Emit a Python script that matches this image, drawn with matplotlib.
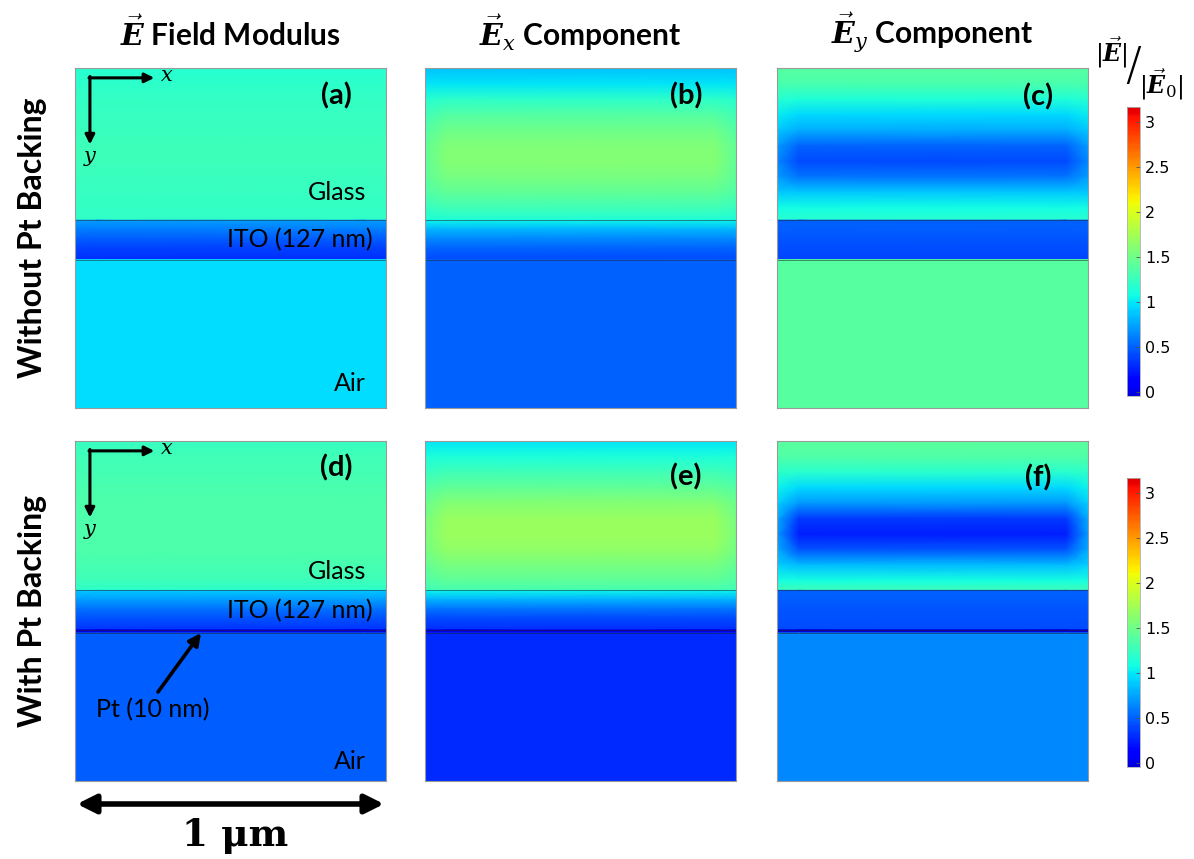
import numpy as np
import matplotlib.pyplot as plt
from matplotlib.colors import Normalize, LinearSegmentedColormap
from matplotlib.patches import FancyArrowPatch

plt.rcParams['mathtext.fontset'] = 'custom'
plt.rcParams['mathtext.bf'] = 'DejaVu Serif:italic:bold'
plt.rcParams['mathtext.it'] = 'DejaVu Serif:italic'
plt.rcParams['mathtext.rm'] = 'DejaVu Serif'

# geometry of the simulation cell (nm)
x_nodes = [0, 70, 930, 1000]
domain_height = 1095
glass_depth_row1 = [0, 50, 100, 150, 200, 250, 300, 350, 400, 450, 490]
glass_depth_row2 = [0, 50, 100, 150, 200, 250, 300, 350, 400, 450, 481]
ito_depth = [0, 30, 60, 90, 127]
pt_thickness = 10

# |E|/|E0|
a_glass_center = [1.17, 1.20, 1.23, 1.25, 1.26, 1.27, 1.27, 1.26, 1.25, 1.23, 1.22]
a_glass_edge = [1.17, 1.20, 1.23, 1.25, 1.26, 1.27, 1.27, 1.26, 1.25, 1.23, 1.22]
a_ito = [0.72, 0.60, 0.48, 0.38, 0.30]
a_air = 0.96

b_glass_center = [0.86, 1.00, 1.20, 1.38, 1.50, 1.58, 1.60, 1.55, 1.45, 1.30, 1.15]
b_glass_edge = [0.86, 1.00, 1.17, 1.30, 1.38, 1.43, 1.44, 1.42, 1.36, 1.25, 1.12]
b_ito = [1.04, 0.82, 0.64, 0.52, 0.42]
b_air = 0.51

c_glass_center = [1.39, 1.33, 1.15, 0.95, 0.78, 0.52, 0.42, 0.58, 0.90, 1.08, 1.18]
c_glass_edge = [1.39, 1.33, 1.17, 1.02, 0.90, 0.72, 0.66, 0.72, 0.90, 1.08, 1.18]
c_ito = [0.50, 0.48, 0.46, 0.43, 0.40]
c_air = 1.40

d_glass_center = [1.25, 1.28, 1.31, 1.33, 1.34, 1.35, 1.35, 1.34, 1.32, 1.27, 1.20]
d_glass_edge = [1.25, 1.28, 1.31, 1.33, 1.34, 1.35, 1.35, 1.34, 1.32, 1.27, 1.20]
d_ito = [0.88, 0.72, 0.56, 0.44, 0.33]
d_pt = 0.02
d_air = 0.48

e_glass_center = [1.00, 1.12, 1.28, 1.45, 1.60, 1.69, 1.71, 1.66, 1.55, 1.42, 1.32]
e_glass_edge = [1.00, 1.12, 1.25, 1.38, 1.48, 1.54, 1.56, 1.53, 1.46, 1.36, 1.28]
e_ito = [1.05, 0.80, 0.58, 0.42, 0.30]
e_pt = 0.02
e_air = 0.29

f_glass_center = [1.41, 1.36, 1.18, 0.95, 0.70, 0.35, 0.25, 0.45, 0.85, 1.10, 1.28]
f_glass_edge = [1.41, 1.36, 1.20, 1.05, 0.92, 0.78, 0.72, 0.78, 0.92, 1.10, 1.28]
f_ito = [0.50, 0.48, 0.46, 0.44, 0.42]
f_pt = -0.04
f_air = 0.66

col_titles = [r'$\vec{\mathbf{E}}$ Field Modulus', r'$\vec{\mathbf{E}}_x$ Component',
              r'$\vec{\mathbf{E}}_y$ Component']
row_titles = ['Without Pt Backing', 'With Pt Backing']
panel_tags = ['(a)', '(b)', '(c)', '(d)', '(e)', '(f)']
cbar_ticks = [0, 0.5, 1, 1.5, 2, 2.5, 3]
cbar_ticklabels = ['0', '0.5', '1', '1.5', '2', '2.5', '3']

panels = [
    (a_glass_center, a_glass_edge, a_ito, None, a_air),
    (b_glass_center, b_glass_edge, b_ito, None, b_air),
    (c_glass_center, c_glass_edge, c_ito, None, c_air),
    (d_glass_center, d_glass_edge, d_ito, d_pt, d_air),
    (e_glass_center, e_glass_edge, e_ito, e_pt, e_air),
    (f_glass_center, f_glass_edge, f_ito, f_pt, f_air),
]

W, H = 1194, 859
norm = Normalize(vmin=-0.04, vmax=3.17)
# rainbow like the COMSOL one: jet without its darkest ends
cmap = LinearSegmentedColormap.from_list('rb', plt.get_cmap('jet')(np.linspace(0.08, 0.92, 256)))
SANS = 'Lato'


def fx(x):
    return x / W


def fy(y):
    return 1 - y / H


def layer(ax, top, depth, center, edge):
    yy = top + np.asarray(depth, dtype=float)
    z = np.column_stack([edge, center, center, edge])
    return ax.pcolormesh(x_nodes, yy, z, shading='gouraud', cmap=cmap, norm=norm)


def flat_layer(ax, top, bottom, value):
    z = np.full((2, len(x_nodes)), value)
    return ax.pcolormesh(x_nodes, [top, bottom], z, shading='gouraud', cmap=cmap, norm=norm)


def draw_panel(ax, data, row):
    g_center, g_edge, ito, pt, air = data
    g_depth = glass_depth_row1 if row == 0 else glass_depth_row2
    m = layer(ax, 0, g_depth, g_center, g_edge)
    ito_top = g_depth[-1]
    layer(ax, ito_top, ito_depth, ito, ito)
    ito_bot = ito_top + ito_depth[-1]
    bounds = [ito_top, ito_bot]
    air_top = ito_bot
    if pt is not None:
        flat_layer(ax, ito_bot, ito_bot + pt_thickness, pt)
        air_top = ito_bot + pt_thickness
        bounds.append(air_top)
    flat_layer(ax, air_top, domain_height, air)
    for b in bounds:
        ax.axhline(b, color='#222222', lw=0.6, alpha=0.6)
    ax.set_xlim(0, 1000)
    ax.set_ylim(domain_height, 0)
    ax.set_xticks([])
    ax.set_yticks([])
    for s in ax.spines.values():
        s.set_color('#9a9a9a')
        s.set_linewidth(0.8)
    return m


def xy_axes(ax):
    # small x / y orientation arrows in the corner
    kw = dict(arrowstyle='-|>', lw=2.2, color='black', mutation_scale=14, shrinkA=0, shrinkB=0)
    ax.annotate('', xy=(0.255, 0.971), xytext=(0.045, 0.971), xycoords='axes fraction', arrowprops=kw)
    ax.annotate('', xy=(0.048, 0.775), xytext=(0.048, 0.975), xycoords='axes fraction', arrowprops=kw)
    ax.text(0.296, 0.978, r'$x$', transform=ax.transAxes, fontsize=15, ha='center', va='center')
    ax.text(0.048, 0.735, r'$y$', transform=ax.transAxes, fontsize=15, ha='center', va='center')


fig = plt.figure(figsize=(W / 100, H / 100), dpi=100)

col_left = [75, 425, 777]
row_top = [68, 441]
pw, ph = 311, 340
tag_y = [[96, 96, 97], [468, 477, 478]]
axes = []
for i, data in enumerate(panels):
    r, c = divmod(i, 3)
    ax = fig.add_axes([fx(col_left[c]), fy(row_top[r] + ph), pw / W, ph / H])
    m = draw_panel(ax, data, r)
    axes.append(ax)
    ax.text(0.84, 1 - (tag_y[r][c] - row_top[r]) / ph, panel_tags[i], transform=ax.transAxes,
            fontsize=21, fontweight='bold', family=SANS, ha='center', va='center')

# colour bars
for r, (top, bot) in enumerate([(107, 396), (478, 767)]):
    cax = fig.add_axes([fx(1127), fy(bot), 13 / W, (bot - top) / H])
    cb = fig.colorbar(m, cax=cax)
    cb.set_ticks(cbar_ticks)
    cb.set_ticklabels(cbar_ticklabels)
    cb.ax.tick_params(labelsize=11.5, length=3, direction='in', width=0.6, color='#555555')
    cb.outline.set_edgecolor('#b0b0b0')
    cb.outline.set_linewidth(0.6)

fig.text(fx(1111), fy(52), r'$|\vec{\mathbf{E}}|$', fontsize=17, ha='center', va='center')
fig.text(fx(1133), fy(67), '/', fontsize=34, ha='center', va='center', family='DejaVu Sans',
         fontweight='light')
fig.text(fx(1161), fy(84), r'$|\vec{\mathbf{E}}_0|$', fontsize=17, ha='center', va='center')

# column and row headings
for c, t in enumerate(col_titles):
    fig.text(fx(col_left[c] + pw / 2), fy(33), t, fontsize=21.5, fontweight='bold',
             family=SANS, ha='center', va='center')
for r, t in enumerate(row_titles):
    fig.text(fx(33), fy(row_top[r] + ph / 2), t, fontsize=23, fontweight='bold', family=SANS,
             rotation=90, ha='center', va='center')

# material labels
ax_a, ax_d = axes[0], axes[3]
lab = dict(fontsize=18, family=SANS, va='center')
ax_a.text(0.936, 0.635, 'Glass', transform=ax_a.transAxes, ha='right', **lab)
ax_a.text(0.958, 0.494, 'ITO (127 nm)', transform=ax_a.transAxes, ha='right', **lab)
ax_a.text(0.936, 0.071, 'Air', transform=ax_a.transAxes, ha='right', **lab)
ax_d.text(0.936, 0.615, 'Glass', transform=ax_d.transAxes, ha='right', **lab)
ax_d.text(0.958, 0.500, 'ITO (127 nm)', transform=ax_d.transAxes, ha='right', **lab)
ax_d.text(0.936, 0.056, 'Air', transform=ax_d.transAxes, ha='right', **lab)
ax_d.text(0.068, 0.209, 'Pt (10 nm)', transform=ax_d.transAxes, ha='left', **lab)
xy_axes(ax_a)
xy_axes(ax_d)

# arrow to the Pt film
fig.add_artist(FancyArrowPatch(
    (fx(158), fy(692)), (fx(201), fy(633)), transform=fig.transFigure,
    arrowstyle='-|>', mutation_scale=18, lw=2.6, color='black', shrinkA=0, shrinkB=0))

# scale bar
fig.add_artist(FancyArrowPatch(
    (fx(77), fy(804)), (fx(384), fy(804)), transform=fig.transFigure,
    arrowstyle='<|-|>', mutation_scale=28, lw=4, color='black', shrinkA=0, shrinkB=0))
fig.text(fx(235), fy(835), '1 μm', fontsize=27, fontweight='bold', family='DejaVu Serif',
         ha='center', va='center')

fig.savefig('out.png', dpi=100)
